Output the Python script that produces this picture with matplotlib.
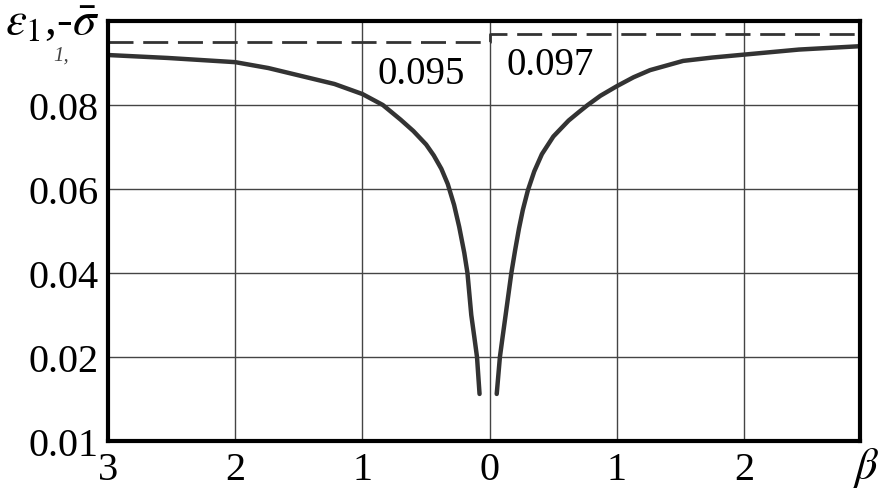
import matplotlib
matplotlib.use("Agg")
import matplotlib.pyplot as plt

plt.rcParams['font.family'] = ['Liberation Serif', 'DejaVu Serif']
plt.rcParams['mathtext.fontset'] = 'stix'

# signed beta: negative = left half of the chart (labels shown as absolute values)
left_beta = [-3.0, -2.53, -2.0, -1.74, -1.48, -1.22, -1.0, -0.84, -0.70, -0.6,
             -0.5, -0.44, -0.38, -0.33, -0.28, -0.24, -0.2, -0.175, -0.145,
             -0.12, -0.10, -0.08]
left_val = [0.0919, 0.0912, 0.0902, 0.0888, 0.0869, 0.085, 0.0826, 0.080, 0.0765,
            0.0738, 0.0706, 0.0680, 0.0648, 0.0612, 0.0562, 0.0510, 0.0448, 0.040,
            0.030, 0.0245, 0.020, 0.0112]
right_beta = [0.055, 0.08, 0.10, 0.125, 0.17, 0.20, 0.23, 0.26, 0.30, 0.35, 0.41,
              0.5, 0.62, 0.70, 0.77, 0.87, 1.0, 1.13, 1.26, 1.52, 1.75, 2.0, 2.43, 2.91]
right_val = [0.0112, 0.020, 0.0245, 0.030, 0.040, 0.0455, 0.0506, 0.0550, 0.0597,
             0.0642, 0.0683, 0.0725, 0.0763, 0.0783, 0.0800, 0.0822, 0.0845, 0.0866,
             0.0883, 0.0905, 0.0913, 0.0920, 0.0932, 0.0940]

# dashed asymptote levels
dash_beta = [-3.0, 0.0, 0.0, 2.91]
dash_val = [0.095, 0.095, 0.097, 0.097]

xticks = [-3, -2, -1, 0, 1, 2]
xlabels = ['3', '2', '1', '0', '1', '2']
yticks = [0.0, 0.02, 0.04, 0.06, 0.08]
ylabels = ['0.01', '0.02', '0.04', '0.06', '0.08']

fig = plt.figure(figsize=(8.86, 4.89), dpi=100)
ax = fig.add_axes([108/886, 1 - 442/489, (860 - 108)/886, (442 - 22)/489])

ax.plot(left_beta, left_val, color='#333333', lw=3.2,
        solid_capstyle='round', solid_joinstyle='round')
ax.plot(right_beta, right_val, color='#333333', lw=3.2,
        solid_capstyle='round', solid_joinstyle='round')
ax.plot(dash_beta, dash_val, color='#333333', lw=2.0, dashes=(9, 3.5))

ax.set_xlim(-3.0, 2.91)
ax.set_ylim(0.0, 0.1)
ax.set_xticks(xticks)
ax.set_xticklabels(xlabels)
ax.set_yticks(yticks)
ax.set_yticklabels(ylabels)
ax.tick_params(length=0, labelsize=29, pad=7)
ax.grid(True, color='#444444', lw=1.0)
for sp in ax.spines.values():
    sp.set_linewidth(3)

ax.text(-0.88, 0.0876, '0.095', fontsize=28, va='center')
ax.text(0.13, 0.0897, '0.097', fontsize=28, va='center')

fig.text(5/886, 1 - 24/489, r'$\varepsilon_1$,-$\bar{\sigma}$', fontsize=34, va='center')
fig.text(53/886, 1 - 56/489, '1,', fontsize=15, style='italic', color='#444444', va='center')
fig.text(853/886, 1 - 468/489, r'$\beta$', fontsize=32, va='center')

fig.savefig('out.png', dpi=100)
